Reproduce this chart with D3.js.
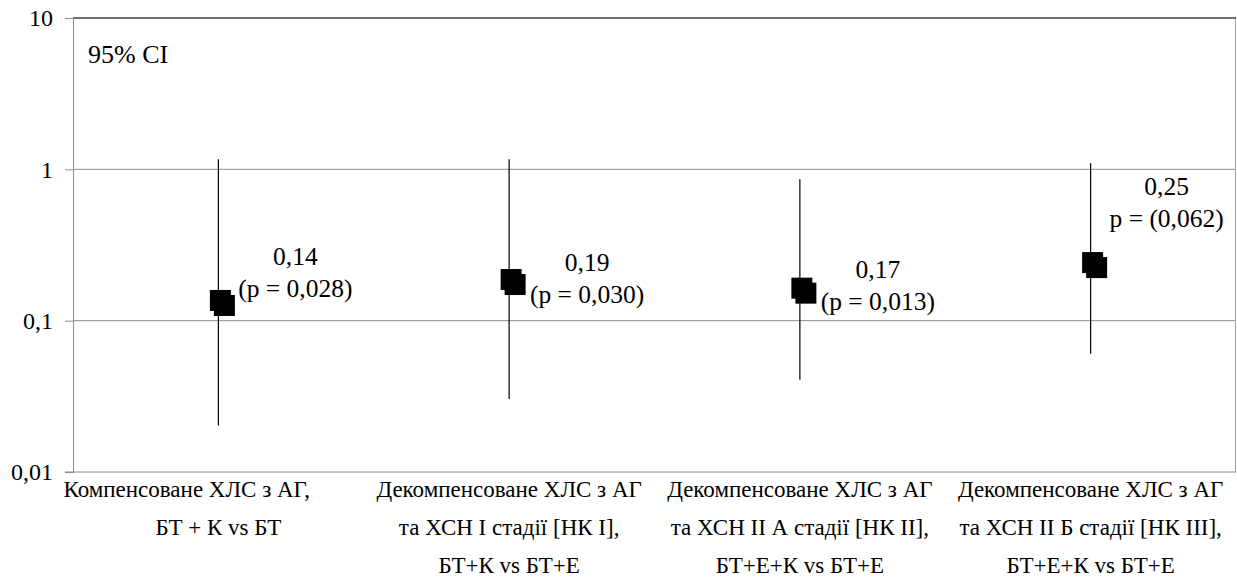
<!DOCTYPE html>
<html>
<head>
<meta charset="utf-8">
<script src="https://cdn.jsdelivr.net/npm/d3@7"></script>
</head>
<body style="margin:0;background:#fff">
<script>
// categories (each label split into lines, as on the axis)
var categories = [
	["Компенсоване ХЛС з АГ,\u00a0\u00a0\u00a0\u00a0\u00a0\u00a0\u00a0\u00a0\u00a0\u00a0\u00a0", "БТ + К vs БТ"],
	["Декомпенсоване ХЛС з АГ", "та ХСН І стадії [НК І],", "БТ+К vs БТ+Е"],
	["Декомпенсоване ХЛС з АГ", "та ХСН ІІ А  стадії [НК ІІ],", "БТ+Е+К vs БТ+Е"],
	["Декомпенсоване ХЛС з АГ", "та ХСН ІІ Б стадії [НК ІІІ],", "БТ+Е+К vs БТ+Е"]
];
var estimate = [0.136, 0.187, 0.164, 0.242];
var ciLow    = [0.0203, 0.0304, 0.0407, 0.0605];
var ciHigh   = [1.165, 1.165, 0.86, 1.096];
var labelTop = ["0,14", "0,19", "0,17", "0,25"];
var labelBot = ["(p = 0,028)", "(p = 0,030)", "(p = 0,013)", "p = (0,062)"];
var yTicks = [0.01, 0.1, 1, 10];
var yTickLabels = ["0,01", "0,1", "1", "10"];

// label placement relative to the marker (px), set by hand like the original
var labelDx = [77, 78, 78, 76];
var labelDy = [-3, 23, 22, -36];

var FONT = "Liberation Serif";

var width = 1237,
	height = 580,
	margin = {top: 18, right: 1, bottom: 108, left: 73};

var svg = d3.select("body").append("svg")
	.attr("width", width)
	.attr("height", height)
	.attr("font-family", FONT)
	.style("display", "block");

var x = d3.scaleBand()
	.domain(d3.range(categories.length))
	.range([margin.left, width - margin.right])
	.padding(0);

var y = d3.scaleLog()
	.domain([0.01, 10])
	.range([height - margin.bottom, margin.top]);

// gridlines
svg.append("g")
	.selectAll("line")
	.data(yTicks.slice(1, 3))
	.enter().append("line")
	.attr("x1", margin.left).attr("x2", width - margin.right)
	.attr("y1", function(d) { return y(d); })
	.attr("y2", function(d) { return y(d); })
	.attr("stroke", "#8c8c8c")
	.attr("stroke-width", 1);

// plot border
svg.append("line")
	.attr("x1", width - margin.right - 0.5).attr("x2", width - margin.right - 0.5)
	.attr("y1", y(10)).attr("y2", y(0.01))
	.attr("stroke", "#a0a0a0");
svg.append("line")
	.attr("x1", margin.left).attr("x2", width - margin.right)
	.attr("y1", y(10)).attr("y2", y(10))
	.attr("stroke", "#444")
	.attr("stroke-width", 1.5);

// y axis
var yAxis = d3.axisLeft(y)
	.tickValues(yTicks)
	.tickFormat(function(d, i) { return yTickLabels[i]; })
	.tickSize(8)
	.tickPadding(12);

var gy = svg.append("g")
	.attr("transform", "translate(" + margin.left + ",0)")
	.call(yAxis)
	.attr("font-family", FONT);
gy.select(".domain").attr("stroke", "#8c8c8c");
gy.selectAll(".tick line").attr("stroke", "#8c8c8c");
gy.selectAll(".tick text")
	.style("font-family", FONT)
	.style("font-size", "24px")
	.attr("fill", "#000")
	.attr("dy", "0.33em");

// bottom axis line
svg.append("line")
	.attr("x1", margin.left - 8).attr("x2", width - margin.right)
	.attr("y1", y(0.01)).attr("y2", y(0.01))
	.attr("stroke", "#8c8c8c");

// category labels
var cat = svg.append("g")
	.selectAll("text")
	.data(categories)
	.enter().append("text")
	.attr("text-anchor", "middle")
	.attr("transform", function(d, i) {
		return "translate(" + (x(i) + x.bandwidth() / 2) + "," + (y(0.01) + 25) + ")";
	})
	.style("font-family", FONT)
	.style("font-size", "23px")
	.attr("fill", "#000");
cat.selectAll("tspan")
	.data(function(d) { return d; })
	.enter().append("tspan")
	.attr("x", 0)
	.attr("dy", function(d, i) { return i == 0 ? 0 : 38; })
	.text(function(d) { return d; });

// whiskers
var pts = svg.append("g")
	.selectAll("g")
	.data(estimate)
	.enter().append("g");

pts.append("line")
	.attr("x1", function(d, i) { return x(i) + x.bandwidth() / 2; })
	.attr("x2", function(d, i) { return x(i) + x.bandwidth() / 2; })
	.attr("y1", function(d, i) { return y(ciLow[i]); })
	.attr("y2", function(d, i) { return y(ciHigh[i]); })
	.attr("stroke", "#000")
	.attr("stroke-width", 1.2);

// markers: two overlapping squares
var sq = 21;
[[2, 0], [6, 5]].forEach(function(off) {
	pts.append("rect")
		.attr("x", function(d, i) { return x(i) + x.bandwidth() / 2 + off[0] - sq / 2; })
		.attr("y", function(d) { return y(d) + off[1] - sq / 2; })
		.attr("width", sq)
		.attr("height", sq)
		.attr("fill", "#000");
});

// value labels
pts.append("text")
	.attr("text-anchor", "middle")
	.attr("x", function(d, i) { return x(i) + x.bandwidth() / 2 + labelDx[i]; })
	.attr("y", function(d, i) { return y(d) + labelDy[i] - 32; })
	.style("font-family", FONT)
	.style("font-size", "25.5px")
	.attr("fill", "#000")
	.text(function(d, i) { return labelTop[i]; });
pts.append("text")
	.attr("text-anchor", "middle")
	.attr("x", function(d, i) { return x(i) + x.bandwidth() / 2 + labelDx[i]; })
	.attr("y", function(d, i) { return y(d) + labelDy[i]; })
	.style("font-family", FONT)
	.style("font-size", "25.5px")
	.attr("fill", "#000")
	.text(function(d, i) { return labelBot[i]; });

svg.append("text")
	.attr("x", margin.left + 15)
	.attr("y", 63)
	.style("font-family", FONT)
	.style("font-size", "26px")
	.attr("fill", "#000")
	.text("95% CI");
</script>
</body>
</html>
